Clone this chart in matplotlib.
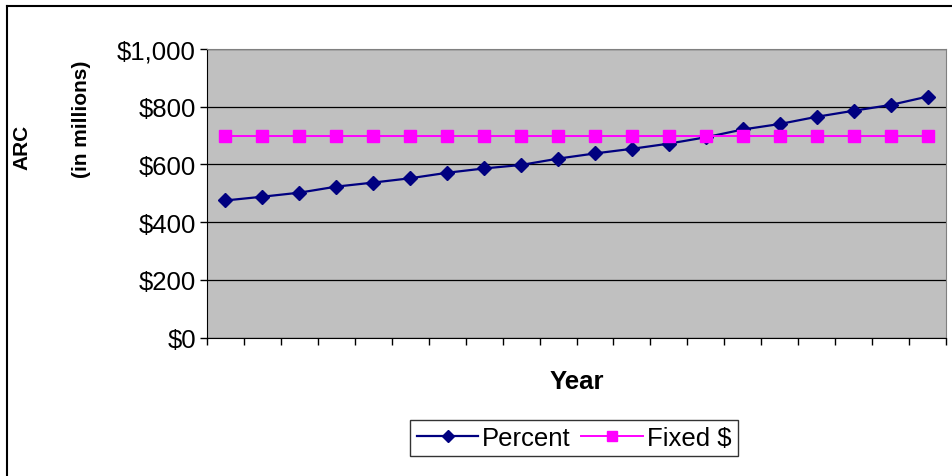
import matplotlib.pyplot as plt
from matplotlib.lines import Line2D
from matplotlib.ticker import FuncFormatter

plt.rcParams['font.family'] = ['Liberation Sans', 'DejaVu Sans']

# data (millions of dollars, 20 years)
years = list(range(1, 21))
percent = [475, 488, 502, 523, 537, 552, 571, 586, 598, 620,
           638, 654, 672, 694, 721, 740, 765, 786, 806, 835]
fixed = [700] * 20

W, H = 952, 477
fig = plt.figure(figsize=(W / 100, H / 100), dpi=100)
ax = fig.add_axes([207 / W, 1 - 338.5 / H, (946 - 207) / W, (338.5 - 50) / H])
ax.set_facecolor('#C0C0C0')

ax.plot(years, percent, color='#000080', lw=1.6, marker='D', ms=7.2,
        label='Percent', zorder=3)
ax.plot(years, fixed, color='#FF00FF', lw=1.4, marker='s', ms=8.5,
        label='Fixed $', zorder=3)

ax.set_xlim(0.5, 20.5)
ax.set_ylim(0, 1000)
ax.set_yticks(range(0, 1001, 200))
ax.yaxis.set_major_formatter(FuncFormatter(lambda v, p: f"${v:,.0f}"))
ax.set_xticks([y + 0.5 for y in range(0, 21)])
ax.set_xticklabels([])
ax.tick_params(axis='x', direction='out', length=5, width=1, color='#000000')
ax.tick_params(axis='y', direction='out', length=5, width=1, labelsize=18.5,
               pad=3)
ax.grid(axis='y', color='#000000', lw=0.9)
ax.set_axisbelow(True)

for s in ['top', 'right']:
    ax.spines[s].set_color('#808080')
for s in ['left', 'bottom']:
    ax.spines[s].set_color('#000000')

fig.text(21.5 / W, 1 - 147 / H, 'ARC', rotation=90, fontsize=15,
         fontweight='bold', ha='center', va='center')
fig.text(81.5 / W, 1 - 119 / H, '(in millions)', rotation=90, fontsize=15,
         fontweight='bold', ha='center', va='center')
fig.text(577 / W, 1 - 382 / H, 'Year', fontsize=18.5, fontweight='bold',
         ha='center', va='center')

leg = ax.legend(loc='center', bbox_to_anchor=(574 / W, 1 - 439 / H),
                bbox_transform=fig.transFigure, ncol=2, fontsize=18.5,
                frameon=True, fancybox=False, edgecolor='#000000',
                handlelength=2.4, handletextpad=0.15, columnspacing=0.4,
                borderpad=0.25, borderaxespad=0, markerscale=0.8)
leg.get_frame().set_linewidth(1)

# chart area border
fig.add_artist(Line2D([7 / W, 7 / W], [0, 1 - 7 / H], color='black', lw=1.5,
                      transform=fig.transFigure))
fig.add_artist(Line2D([7 / W, 1], [1 - 7 / H, 1 - 7 / H], color='black', lw=1.5,
                      transform=fig.transFigure))

fig.savefig('out.png', dpi=100)
